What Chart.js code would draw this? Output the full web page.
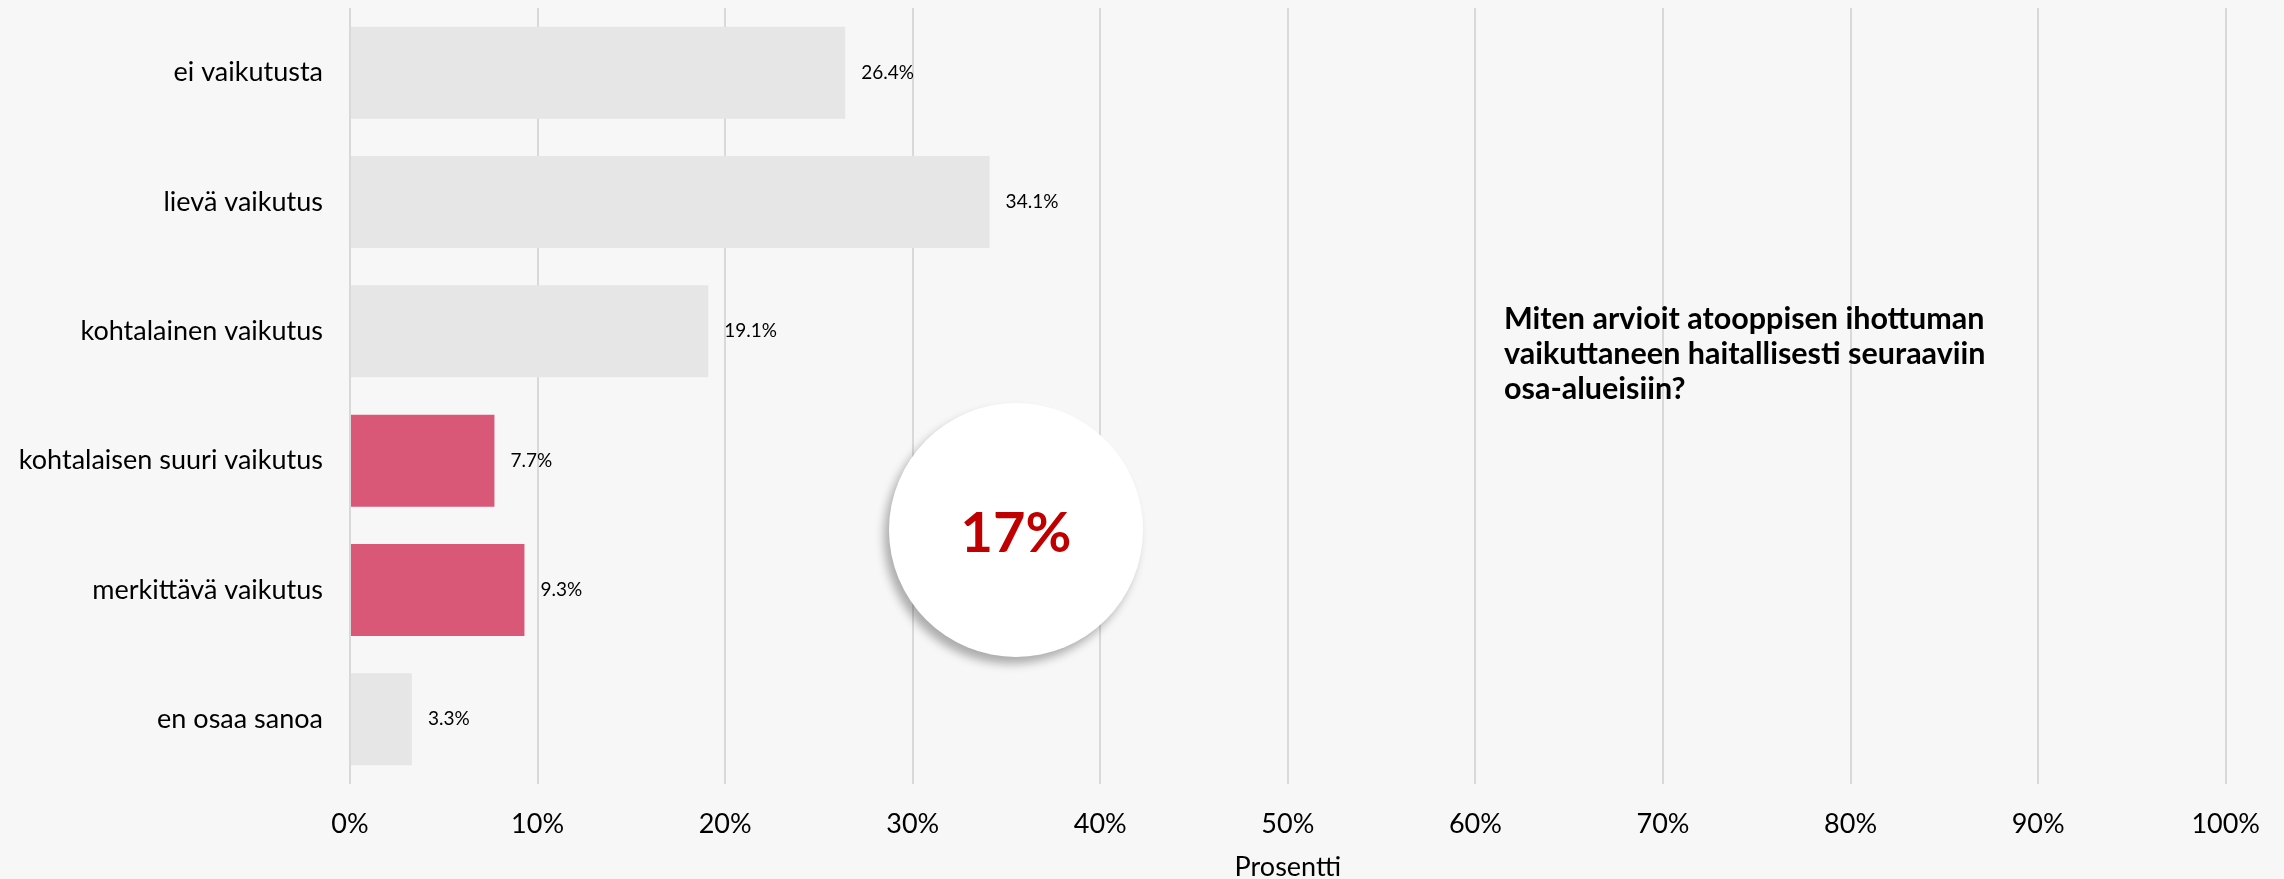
<!DOCTYPE html>
<html>
<head>
<meta charset="utf-8">
<script src="https://cdn.jsdelivr.net/npm/chart.js@4.4.1/dist/chart.umd.min.js"></script>
<style>
  html, body { margin: 0; padding: 0; background: #f7f7f7; }
  #wrap { position: relative; width: 2284px; height: 879px; }
  #chart { position: absolute; left: 0; top: 0; }
  #question {
    position: absolute; left: 1504px; top: 300px;
    font-family: Lato, sans-serif; font-weight: bold; font-size: 30.5px;
    line-height: 35px; color: #000;
  }
  #bubble {
    position: absolute; left: 889px; top: 403px; width: 254px; height: 254px;
    border-radius: 50%; background: #fff;
    box-shadow: -5px 7px 10px rgba(0, 0, 0, 0.3);
    display: flex; align-items: center; justify-content: center;
    font-family: Lato, sans-serif; font-weight: bold; font-size: 56px; color: #c00000;
  }
</style>
</head>
<body>
<div id="wrap">
  <canvas id="chart" width="2284" height="879"></canvas>
  <div id="bubble"></div>
  <div id="question"></div>
</div>
<script>
// data
var categories = ['ei vaikutusta', 'lievä vaikutus', 'kohtalainen vaikutus',
  'kohtalaisen suuri vaikutus', 'merkittävä vaikutus', 'en osaa sanoa'];
var percents = [26.4, 34.1, 19.1, 7.7, 9.3, 3.3];
var highlighted = ['kohtalaisen suuri vaikutus', 'merkittävä vaikutus'];
var xTicks = [0, 10, 20, 30, 40, 50, 60, 70, 80, 90, 100];
var summaryLabel = '17%';
var questionLines = ['Miten arvioit atooppisen ihottuman',
  'vaikuttaneen haitallisesti seuraaviin', 'osa-alueisiin?'];

document.getElementById('bubble').textContent = summaryLabel;
document.getElementById('question').innerHTML = questionLines.join('<br>');

var colors = categories.map(function(c) {
  return highlighted.indexOf(c) >= 0 ? '#d95777' : '#e6e6e6';
});

// value labels at the end of the bars
var valueLabels = {
  id: 'valueLabels',
  afterDatasetsDraw: function(chart) {
    var ctx = chart.ctx;
    var meta = chart.getDatasetMeta(0);
    ctx.save();
    ctx.font = '19px Lato';
    ctx.fillStyle = '#000';
    ctx.textAlign = 'left';
    ctx.textBaseline = 'middle';
    meta.data.forEach(function(bar, i) {
      ctx.fillText(percents[i].toFixed(1) + '%', bar.x + 16, bar.y);
    });
    ctx.restore();
  }
};

var bg = {
  id: 'bg',
  beforeDraw: function(chart) {
    var ctx = chart.ctx;
    ctx.save();
    ctx.fillStyle = '#f7f7f7';
    ctx.fillRect(0, 0, chart.width, chart.height);
    ctx.restore();
  }
};

new Chart(document.getElementById('chart'), {
  type: 'bar',
  data: {
    labels: categories,
    datasets: [{
      label: 'Prosentti',
      data: percents,
      backgroundColor: colors,
      borderWidth: 0,
      categoryPercentage: 1,
      barPercentage: 0.711
    }]
  },
  options: {
    indexAxis: 'y',
    responsive: false,
    animation: false,
    layout: { padding: { top: 8, right: 57, bottom: 0, left: 0 } },
    plugins: {
      legend: { display: false },
      tooltip: { enabled: false }
    },
    scales: {
      x: {
        min: 0,
        max: 100,
        afterBuildTicks: function(scale) {
          scale.ticks = xTicks.map(function(v) { return { value: v }; });
        },
        afterFit: function(scale) { scale.height = 95; },
        grid: { color: '#d9d9d9', lineWidth: 2, drawTicks: false },
        border: { display: false },
        ticks: {
          padding: 24,
          color: '#000',
          font: { family: 'Lato', size: 27 },
          callback: function(v) { return v + '%'; }
        },
        title: {
          display: true,
          text: 'Prosentti',
          color: '#000',
          font: { family: 'Lato', size: 27, lineHeight: 0.9 },
          padding: 0
        }
      },
      y: {
        afterFit: function(scale) { scale.width = 350; },
        grid: { display: false, drawTicks: true, tickLength: 27 },
        border: { display: false },
        ticks: {
          padding: 0,
          color: '#000',
          font: { family: 'Lato', size: 27, lineHeight: 0.5 }
        }
      }
    }
  },
  plugins: [bg, valueLabels]
});
</script>
</body>
</html>
